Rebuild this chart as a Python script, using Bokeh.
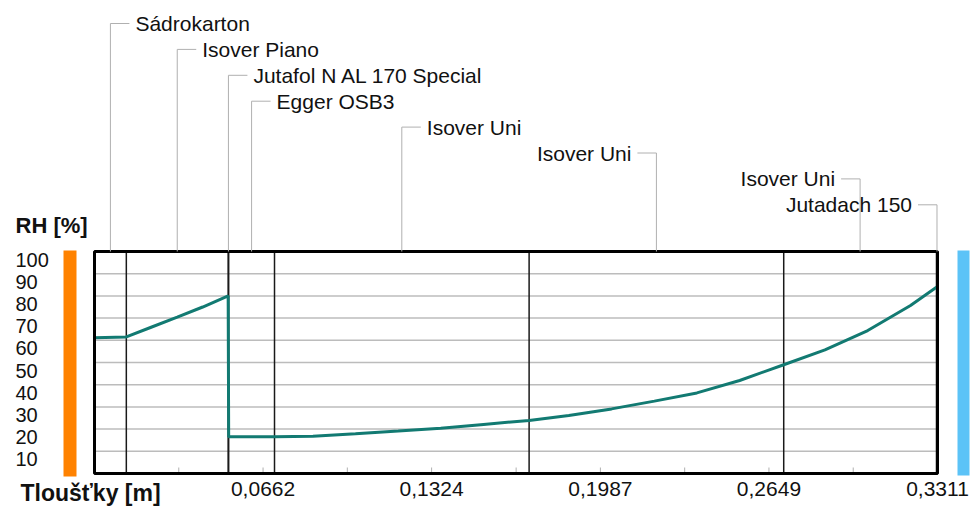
from bokeh.plotting import figure
from bokeh.models import Range1d
from bokeh.embed import file_html
from bokeh.resources import INLINE
from bokeh.core.properties import value

# Wall build-up from the interior side outwards
layers = ["Sádrokarton", "Isover Piano", "Jutafol N AL 170 Special", "Egger OSB3",
          "Isover Uni", "Isover Uni", "Isover Uni", "Jutadach 150"]
thickness = [0.0125, 0.04, 0.0002, 0.018, 0.1, 0.1, 0.06, 0.0004]

# Relative humidity profile across the wall [m] -> [%]
rh_x = [0.0, 0.0125, 0.0225, 0.0325, 0.0425, 0.0525, 0.0527, 0.0707,
        0.0858, 0.1025, 0.1193, 0.1360, 0.1528, 0.1707, 0.1863, 0.2031,
        0.2199, 0.2366, 0.2534, 0.2707, 0.2869, 0.3037, 0.3205, 0.3311]
rh_y = [61.2, 61.5, 66.0, 70.4, 75.0, 80.0, 16.5, 16.5,
        16.8, 17.9, 19.1, 20.4, 22.1, 23.9, 26.1, 29.1,
        32.6, 36.3, 41.9, 49.0, 55.7, 64.4, 75.7, 84.2]

# Axis ticks
x_major = [0.0662, 0.1324, 0.1987, 0.2649, 0.3311]
x_major_labels = ["0,0662", "0,1324", "0,1987", "0,2649", "0,3311"]
x_minor = [0.0331, 0.0993, 0.1656, 0.2318, 0.2980]
y_ticks = [10, 20, 30, 40, 50, 60, 70, 80, 90, 100]
y_grid = [10, 20, 30, 40, 50, 60, 70, 80, 90]

total = sum(thickness)
FONT = value("Liberation Sans")
INK = "#111111"
W, H = 971, 506
# pixel box of the diagram inside the page
LEFT, RIGHT, TOP, BOTTOM = 94, 937, 251, 473
PPM = (RIGHT - LEFT) / total          # pixels per metre
PPR = (BOTTOM - TOP) / 100.0          # pixels per % RH


def px2x(px):
    return (px - LEFT) / PPM


def py2y(py):
    return (BOTTOM - py) / PPR


p = figure(width=W, height=H,
           x_range=Range1d(px2x(0), px2x(W)), y_range=Range1d(py2y(H), py2y(0)),
           output_backend="svg", toolbar_location=None,
           x_axis_location=None, y_axis_location=None, min_border=0)
p.background_fill_color = "white"
p.border_fill_color = "white"
p.outline_line_color = None
p.grid.visible = False

# Horizontal grid
p.segment(x0=[0] * len(y_grid), y0=y_grid, x1=[total] * len(y_grid), y1=y_grid,
          line_color="#bcbcbc", line_width=1.5)

# Tick marks along the thickness axis (inside the box)
tick_x = x_minor + x_major
tick_h = 6 / PPR
p.segment(x0=tick_x, y0=[0] * len(tick_x), x1=tick_x, y1=[tick_h] * len(tick_x),
          line_color="#b0b0b0", line_width=1)

# Layer boundaries
bounds = []
acc = 0.0
for t in thickness[:-1]:
    acc += t
    bounds.append(acc)
p.segment(x0=bounds, y0=[0] * len(bounds), x1=bounds, y1=[100] * len(bounds),
          line_color="#1a1a1a", line_width=1.5)

# Humidity curve
p.line(rh_x, rh_y, line_color="#127a72", line_width=3)

# Diagram box
p.quad(left=[0], right=[total], bottom=[0], top=[100], fill_color=None,
       line_color="black", line_width=3)

# Tick labels
p.text(x=x_major, y=[py2y(481)] * len(x_major), text=x_major_labels,
       text_font=FONT, text_font_size=value("21px"), text_color=INK,
       text_align="center", text_baseline="top")
p.text(x=[px2x(15)] * len(y_ticks), y=y_ticks, text=[str(v) for v in y_ticks],
       text_font=FONT, text_font_size=value("20px"), text_color=INK,
       text_align="left", text_baseline="top", y_offset=1)

# Axis titles
p.text(x=[px2x(15)], y=[py2y(225)], text=["RH [%]"], text_font=FONT,
       text_font_style="bold", text_font_size=value("22px"), text_color=INK,
       text_align="left", text_baseline="middle")
p.text(x=[px2x(20)], y=[py2y(492)], text=["Tloušťky [m]"], text_font=FONT,
       text_font_style="bold", text_font_size=value("23px"), text_color=INK,
       text_align="left", text_baseline="middle")

# Interior / exterior side markers
p.quad(left=[px2x(63)], right=[px2x(76)], bottom=[py2y(476)], top=[py2y(250)],
       fill_color="#ff8200", line_color=None)
p.quad(left=[px2x(957)], right=[px2x(969)], bottom=[py2y(475)], top=[py2y(250)],
       fill_color="#5cc3f7", line_color=None)

# Layer name callouts
centres, levels = [], []
start = 0.0
for i, t in enumerate(thickness):
    centres.append(start + t / 2)
    start += t
    levels.append(py2y(23 + 25.9 * i))

lead = 19 / PPM
ends = [c + (-lead if i >= 5 else lead) for i, c in enumerate(centres)]
p.segment(x0=centres, y0=[100] * len(centres), x1=centres, y1=levels,
          line_color="#b0b0b0", line_width=1)
p.segment(x0=centres, y0=levels, x1=ends, y1=levels,
          line_color="#b0b0b0", line_width=1)

p.text(x=ends[:5], y=levels[:5], text=layers[:5], x_offset=6,
       text_font=FONT, text_font_size=value("21px"), text_color=INK,
       text_align="left", text_baseline="middle")
p.text(x=ends[5:], y=levels[5:], text=layers[5:], x_offset=-6,
       text_font=FONT, text_font_size=value("21px"), text_color=INK,
       text_align="right", text_baseline="middle")

open("out.html", "w").write(file_html(p, INLINE))
